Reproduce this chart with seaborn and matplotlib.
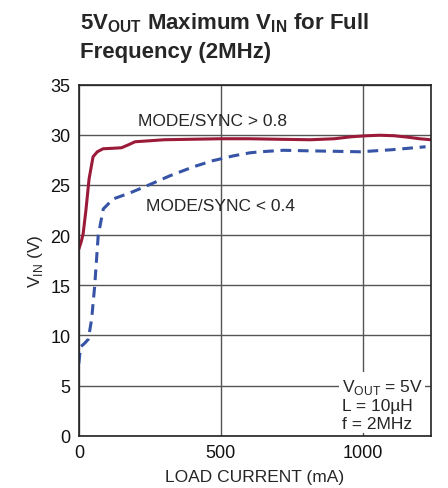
import seaborn as sns
import matplotlib.pyplot as plt
import pandas as pd

# load current (mA) vs max VIN (V)
hi_current = [0, 8, 15, 25, 36, 50, 65, 85, 120, 150, 175, 198, 250, 300, 400, 500, 600, 700,
              815, 900, 960, 1015, 1060, 1110, 1160, 1200, 1240]
hi_vin = [18.6, 19.3, 20.1, 22.5, 25.6, 27.8, 28.3, 28.6, 28.65, 28.7, 29.0, 29.3, 29.4, 29.5,
          29.55, 29.6, 29.6, 29.55, 29.5, 29.6, 29.8, 29.9, 29.95, 29.9, 29.75, 29.6, 29.5]

lo_current = [0, 6, 20, 33, 45, 56, 68, 86, 121, 180, 239, 320, 403, 470, 545, 603, 639, 720,
              800, 900, 991, 1100, 1221]
lo_vin = [7.2, 8.85, 9.2, 9.6, 11.6, 15.0, 19.9, 22.6, 23.6, 24.2, 24.9, 25.9, 26.8, 27.4, 27.9,
          28.2, 28.3, 28.45, 28.4, 28.35, 28.3, 28.5, 28.8]

hi = pd.DataFrame({'current': hi_current, 'vin': hi_vin})
lo = pd.DataFrame({'current': lo_current, 'vin': lo_vin})

sns.set_style('white')
plt.rcParams['font.family'] = ['Liberation Sans', 'DejaVu Sans']
plt.rcParams['mathtext.fontset'] = 'custom'
plt.rcParams['mathtext.rm'] = 'Liberation Sans'
plt.rcParams['mathtext.bf'] = 'Liberation Sans:bold'

fig = plt.figure(figsize=(4.48, 4.89), dpi=100)
ax = fig.add_axes([0.176, 0.107, 0.786, 0.718])

sns.lineplot(data=hi, x='current', y='vin', color='#9b1a3a', lw=2.2, ax=ax)
sns.lineplot(data=lo, x='current', y='vin', color='#3653a5', lw=2.2, ax=ax,
             linestyle=(0, (3.5, 2.2)))

ax.set_xlim(0, 1240)
ax.set_ylim(0, 35)
ax.set_xticks([0, 500, 1000])
ax.set_yticks(range(0, 36, 5))
ax.grid(True, color='#555555', lw=1.0)
ax.set_axisbelow(True)
for s in ax.spines.values():
    s.set_color('#222222')
    s.set_linewidth(1.2)
ax.tick_params(length=0, labelsize=13, pad=6, colors='#111111')

ax.set_xlabel('LOAD CURRENT (mA)', fontsize=12.5, labelpad=6)
ax.set_ylabel(r'V$_{\mathrm{IN}}$ (V)', fontsize=12.5, labelpad=4)

ax.text(208, 31.4, 'MODE/SYNC > 0.8', fontsize=12.5, va='center')
ax.text(236, 22.9, 'MODE/SYNC < 0.4', fontsize=12.5, va='center')
ax.text(925, 0.5, 'V$_{\\mathrm{OUT}}$ = 5V\nL = 10µH\nf = 2MHz', fontsize=12.5,
        va='bottom', ha='left', linespacing=1.2,
        bbox=dict(facecolor='white', edgecolor='none', pad=2))

fig.text(0.178, 0.952, r'5V$_{\mathbf{OUT}}$ Maximum V$_{\mathbf{IN}}$ for Full',
         fontsize=16, fontweight='bold', va='center')
fig.text(0.178, 0.893, 'Frequency (2MHz)', fontsize=16, fontweight='bold', va='center')

fig.savefig('out.png', dpi=100)
